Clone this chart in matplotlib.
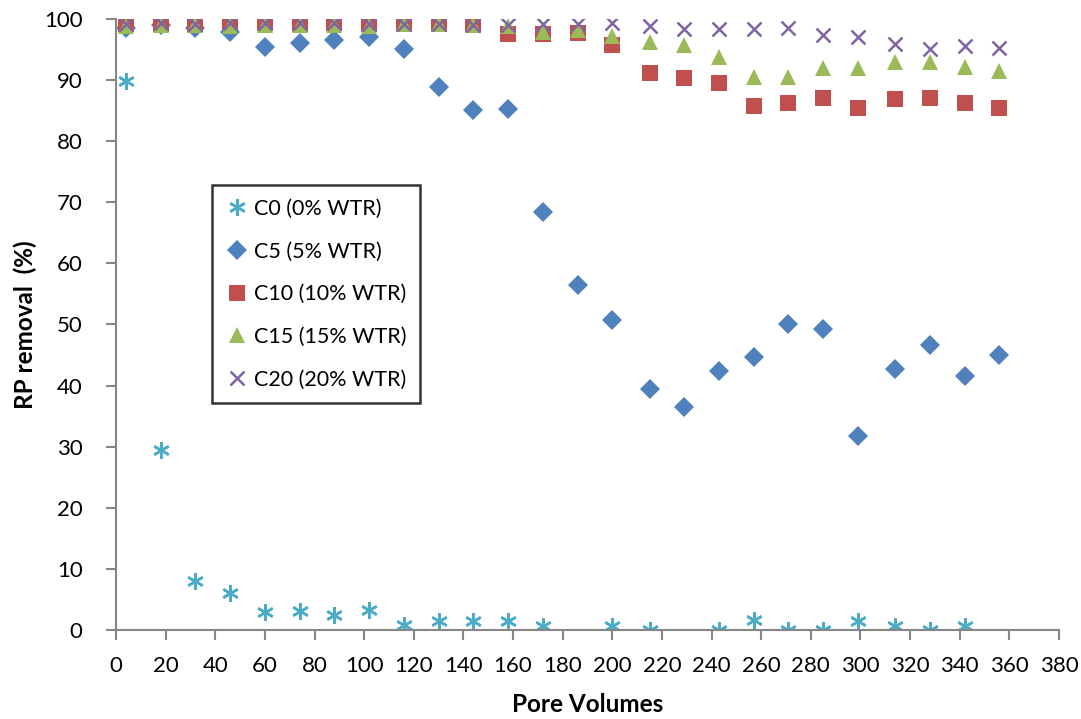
import matplotlib
matplotlib.use("Agg")
import matplotlib.pyplot as plt

# pore volumes at each sampling point
pore_volumes = [4, 18, 32, 46, 60, 74, 88, 102, 116, 130, 144, 158, 172,
                186, 200, 215, 229, 243, 257, 271, 285, 299, 314, 328, 342, 356]

# C0 has no readings at 186, 229 and 356 PV
c0_pv = [4, 18, 32, 46, 60, 74, 88, 102, 116, 130, 144, 158, 172,
         200, 215, 243, 257, 271, 285, 299, 314, 328, 342]
c0 = [89.8, 29.5, 8.0, 6.0, 3.0, 3.1, 2.5, 3.2, 0.8, 1.5, 1.5, 1.5, 0.7,
      0.7, 0.0, 0.0, 1.6, 0.0, 0.0, 1.4, 0.7, 0.0, 0.7]
c5 = [98.5, 99.0, 98.5, 97.8, 95.4, 96.1, 96.6, 97.0, 95.1, 88.9, 85.1, 85.3, 68.4,
      56.4, 50.7, 39.4, 36.5, 42.4, 44.7, 50.0, 49.3, 31.8, 42.7, 46.6, 41.5, 45.0]
c10 = [99.2, 99.2, 99.0, 99.5, 99.3, 99.2, 99.3, 99.2, 99.2, 99.1, 99.0, 97.5, 97.5,
       97.7, 95.7, 91.2, 90.4, 89.6, 85.8, 86.3, 87.1, 85.4, 86.9, 87.1, 86.3, 85.4]
c15 = [98.8, 99.0, 99.0, 98.9, 99.0, 99.0, 99.0, 98.9, 99.1, 99.1, 99.0, 98.9, 97.9,
       98.2, 97.2, 96.2, 95.7, 93.8, 90.5, 90.5, 91.9, 92.0, 93.0, 92.9, 92.1, 91.5]
c20 = [99.1, 99.3, 99.1, 99.4, 99.3, 99.3, 99.3, 99.2, 99.2, 99.2, 99.0, 99.0, 99.1,
       99.2, 99.3, 98.9, 98.3, 98.3, 98.4, 98.6, 97.4, 97.1, 95.9, 95.1, 95.5, 95.3]

labels = ["C0 (0% WTR)", "C5 (5% WTR)", "C10 (10% WTR)", "C15 (15% WTR)", "C20 (20% WTR)"]
colors = ["#4BACC6", "#4F81BD", "#C0504D", "#9BBB59", "#8064A2"]

plt.rcParams["font.family"] = ["Lato", "DejaVu Sans"]

fig = plt.figure(figsize=(10.81, 7.19), dpi=100)
ax = fig.add_axes([0.1073, 0.1238, 0.8723, 0.8498])

ax.plot(c0_pv, c0, linestyle="none", marker=(6, 2, 0), ms=12, mew=1.8,
        color=colors[0], label=labels[0])
ax.plot(pore_volumes, c5, linestyle="none", marker="D", ms=10, mew=0,
        color=colors[1], label=labels[1])
ax.plot(pore_volumes, c10, linestyle="none", marker="s", ms=11, mew=0,
        color=colors[2], label=labels[2])
ax.plot(pore_volumes, c15, linestyle="none", marker="^", ms=12, mew=0,
        color=colors[3], label=labels[3])
ax.plot(pore_volumes, c20, linestyle="none", marker="x", ms=10, mew=1.8,
        color=colors[4], label=labels[4])

ax.set_xlim(0, 380)
ax.set_ylim(0, 100)
ax.set_xticks(range(0, 381, 20))
ax.set_yticks(range(0, 101, 10))

for side in ["top", "right"]:
    ax.spines[side].set_visible(False)
for side in ["left", "bottom"]:
    ax.spines[side].set_color("#868686")
    ax.spines[side].set_linewidth(1.5)
ax.tick_params(axis="both", direction="out", length=7, width=1.5,
               color="#868686", labelsize=16)
ax.tick_params(axis="x", pad=12)
ax.tick_params(axis="y", pad=17)

ax.set_xlabel("Pore Volumes", fontsize=17.5, fontweight="bold", labelpad=12)
ax.set_ylabel("RP removal  (%)", fontsize=17.5, fontweight="bold", labelpad=5)

leg = ax.legend(loc="upper left", bbox_to_anchor=(0.196, 0.7427),
                bbox_transform=fig.transFigure, fontsize=15.5, frameon=True,
                fancybox=False, handlelength=1.0, handletextpad=0.3,
                labelspacing=1.05, borderpad=0.65, borderaxespad=0)
leg.get_frame().set_edgecolor("black")
leg.get_frame().set_linewidth(1.8)

fig.savefig("out.png", dpi=100)
